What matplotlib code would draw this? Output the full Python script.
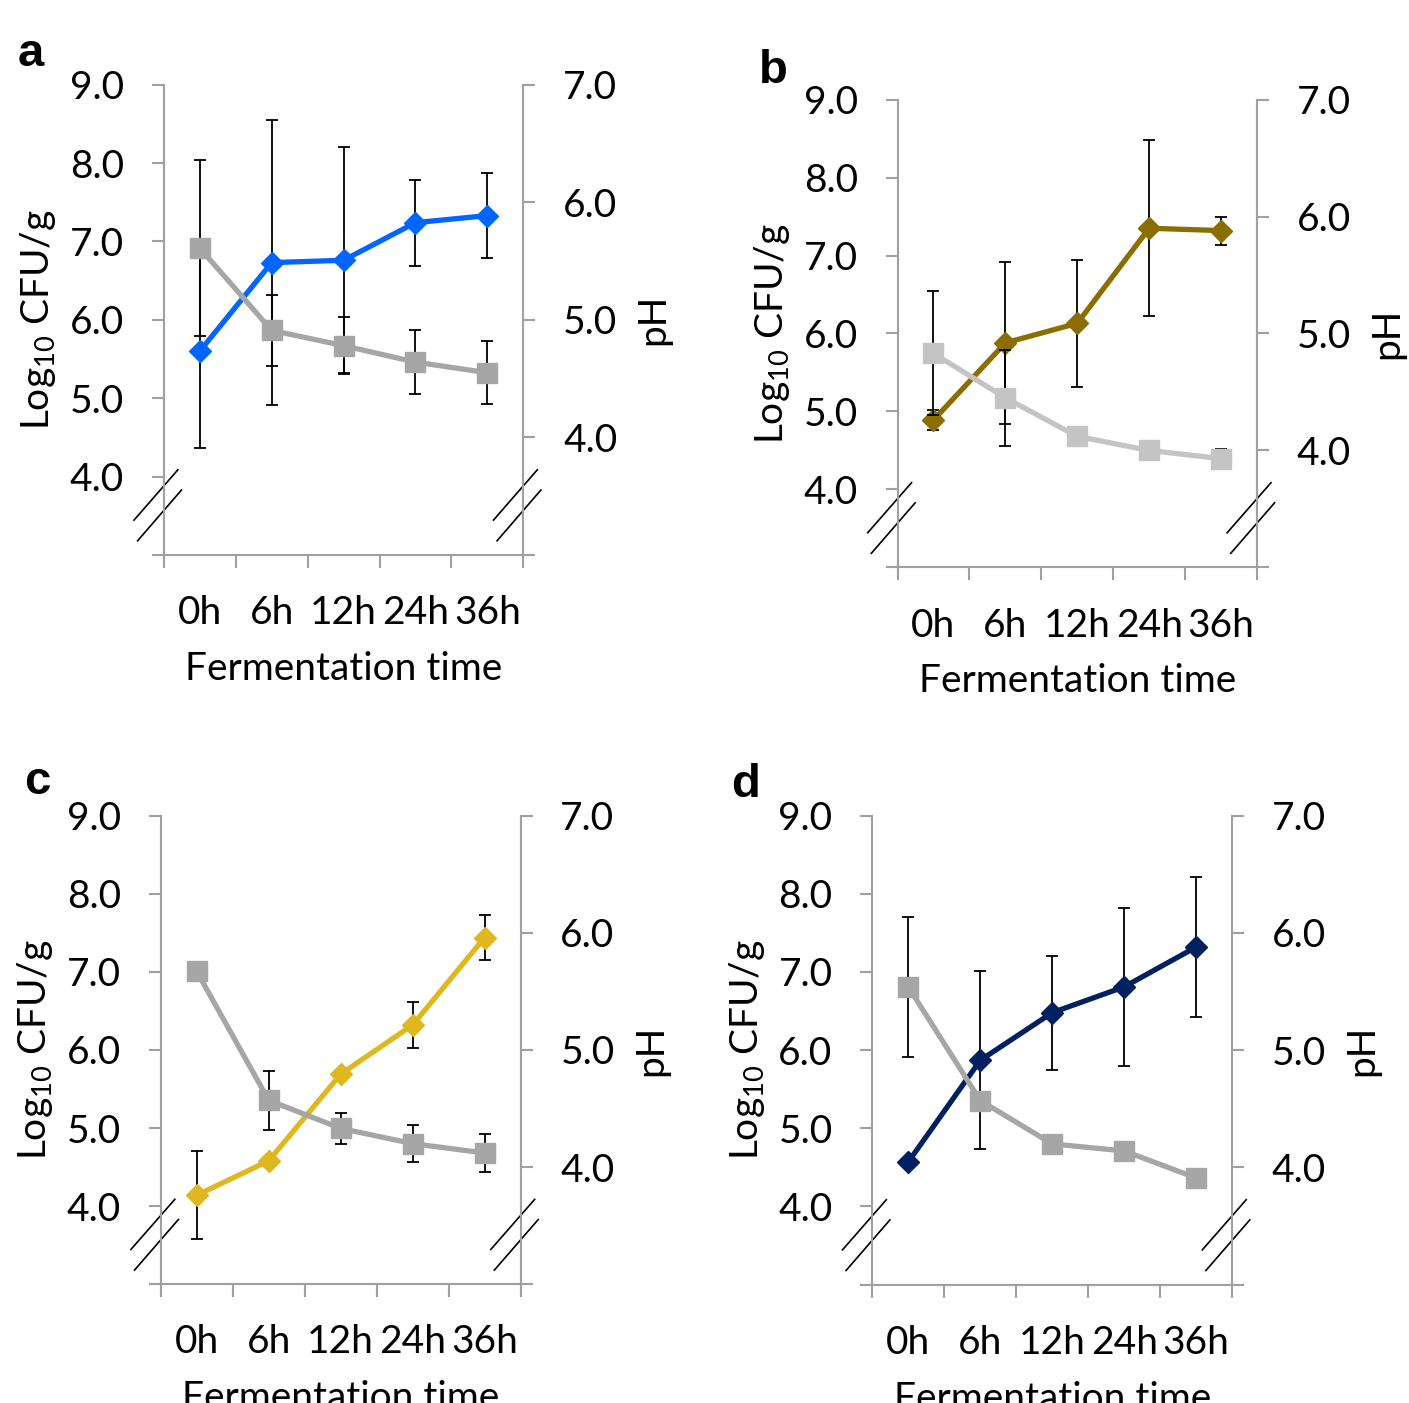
import numpy as np
import matplotlib
matplotlib.use('Agg')
import matplotlib.pyplot as plt

plt.rcParams['font.family'] = ['Lato', 'DejaVu Sans']
plt.rcParams['mathtext.fontset'] = 'custom'
plt.rcParams['mathtext.rm'] = 'Lato'

# donnees
temps = ['0h', '6h', '12h', '24h', '36h']

cfu_a = [5.60, 6.73, 6.76, 7.24, 7.33]
cfu_a_err = [1.23, 1.82, 1.44, 0.55, 0.54]
ph_a = [5.61, 4.91, 4.78, 4.64, 4.55]
ph_a_err = [0.75, 0.30, 0.24, 0.27, 0.27]

cfu_b = [4.89, 5.88, 6.13, 7.35, 7.32]
cfu_b_err = [0.13, 1.04, 0.81, 1.13, 0.18]
ph_b = [4.83, 4.45, 4.12, 4.00, 3.93]
ph_b_err = [0.53, 0.41, 0.05, 0.03, 0.08]

cfu_c = [4.14, 4.58, 5.69, 6.32, 7.44]
cfu_c_err = [0.56, 0.05, 0.05, 0.30, 0.29]
ph_c = [5.67, 4.57, 4.33, 4.20, 4.12]
ph_c_err = [0.05, 0.25, 0.13, 0.16, 0.16]

cfu_d = [4.57, 5.87, 6.48, 6.81, 7.32]
cfu_d_err = [0.05, 1.14, 0.73, 1.01, 0.90]
ph_d = [5.54, 4.57, 4.20, 4.14, 3.91]
ph_d_err = [0.60, 0.05, 0.08, 0.03, 0.03]

panneaux = [
    ('a', [0.1163, 0.6045, 0.2551, 0.3351], cfu_a, cfu_a_err, ph_a, ph_a_err, '#0066FF', '#A6A6A6'),
    ('b', [0.6370, 0.5956, 0.2551, 0.3334], cfu_b, cfu_b_err, ph_b, ph_b_err, '#8C6D00', '#C4C4C4'),
    ('c', [0.1141, 0.0847, 0.2554, 0.3339], cfu_c, cfu_c_err, ph_c, ph_c_err, '#DFB81F', '#A6A6A6'),
    ('d', [0.6191, 0.0844, 0.2554, 0.3342], cfu_d, cfu_d_err, ph_d, ph_d_err, '#002060', '#A6A6A6'),
]
lettres_pos = {'a': (0.0128, 1 - 66 / 1403), 'b': (0.5387, 1 - 83 / 1403),
               'c': (0.0170, 1 - 794 / 1403), 'd': (0.5186, 1 - 797 / 1403)}

gris_axe = '#A0A0A0'
fs = 28

fig = plt.figure(figsize=(14.09, 14.03), dpi=100)

for nom, pos, cfu, cfu_err, ph, ph_err, couleur, couleur_ph in panneaux:
    x = np.arange(len(temps))
    ax = fig.add_axes(pos)
    ax2 = ax.twinx()

    ax.errorbar(x, cfu, yerr=cfu_err, fmt='none', ecolor='black', elinewidth=1.3,
                capsize=4.5, capthick=1.3, zorder=2)
    ax.plot(x, cfu, color=couleur, lw=3.8, marker='D', ms=11.5, mec=couleur,
            mfc=couleur, zorder=3)
    ax2.errorbar(x, ph, yerr=ph_err, fmt='none', ecolor='black', elinewidth=1.3,
                 capsize=4.5, capthick=1.3, zorder=2)
    ax2.plot(x, ph, color=couleur_ph, lw=3.8, marker='s', ms=14.5, mec=couleur_ph,
             mfc=couleur_ph, zorder=3)

    ax.set_xlim(-0.5, 4.5)
    ax.set_ylim(3, 9)
    ax2.set_ylim(3, 7)

    ax.set_yticks(np.arange(3, 10))
    ax.set_yticklabels([''] + ['%.1f' % v for v in range(4, 10)])
    ax2.set_yticks(np.arange(3, 8))
    ax2.set_yticklabels([''] + ['%.1f' % v for v in range(4, 8)])

    ax.set_xticks(x)
    ax.set_xticklabels(temps)
    ax.set_xticks(np.arange(-0.5, 5), minor=True)
    ax.tick_params(axis='x', which='major', length=0, pad=29, labelsize=fs)
    ax.tick_params(axis='x', which='minor', length=9.5, width=1.5, color=gris_axe)
    ax.tick_params(axis='y', length=8.6, width=1.5, color=gris_axe, pad=20, labelsize=fs)
    ax2.tick_params(axis='y', length=8.6, width=1.5, color=gris_axe, pad=20, labelsize=fs)

    for a_ in (ax, ax2):
        a_.spines['top'].set_visible(False)
        for s in ('left', 'right', 'bottom'):
            a_.spines[s].set_color(gris_axe)
            a_.spines[s].set_linewidth(1.5)
    ax.spines['right'].set_visible(False)
    ax2.spines['left'].set_visible(False)
    ax2.spines['bottom'].set_visible(False)

    ax.set_ylabel(r'Log$_{\mathregular{10}}$ CFU/g', fontsize=fs)
    ax.yaxis.set_label_coords(-0.294, 0.5)
    ax2.set_ylabel('pH', fontsize=fs)
    ax2.yaxis.set_label_coords(1.312, 0.5)
    ax.set_xlabel('Fermentation time', fontsize=fs)
    ax.xaxis.set_label_coords(0.5, -0.205)
    ax.xaxis.label.set_va('top')

    # marques de coupure de l'axe
    for x0 in (0.0, 1.0):
        ax.plot([x0 - 0.083, x0 + 0.039], [0.074, 0.181], color='black', lw=1.2,
                transform=ax.transAxes, clip_on=False)
        ax.plot([x0 - 0.073, x0 + 0.049], [0.030, 0.138], color='black', lw=1.2,
                transform=ax.transAxes, clip_on=False)

    lx, ly = lettres_pos[nom]
    fig.text(lx, ly, nom, fontsize=34, fontweight='bold', family='Liberation Sans',
             va='baseline', ha='left')

fig.savefig('out.png', dpi=100)
